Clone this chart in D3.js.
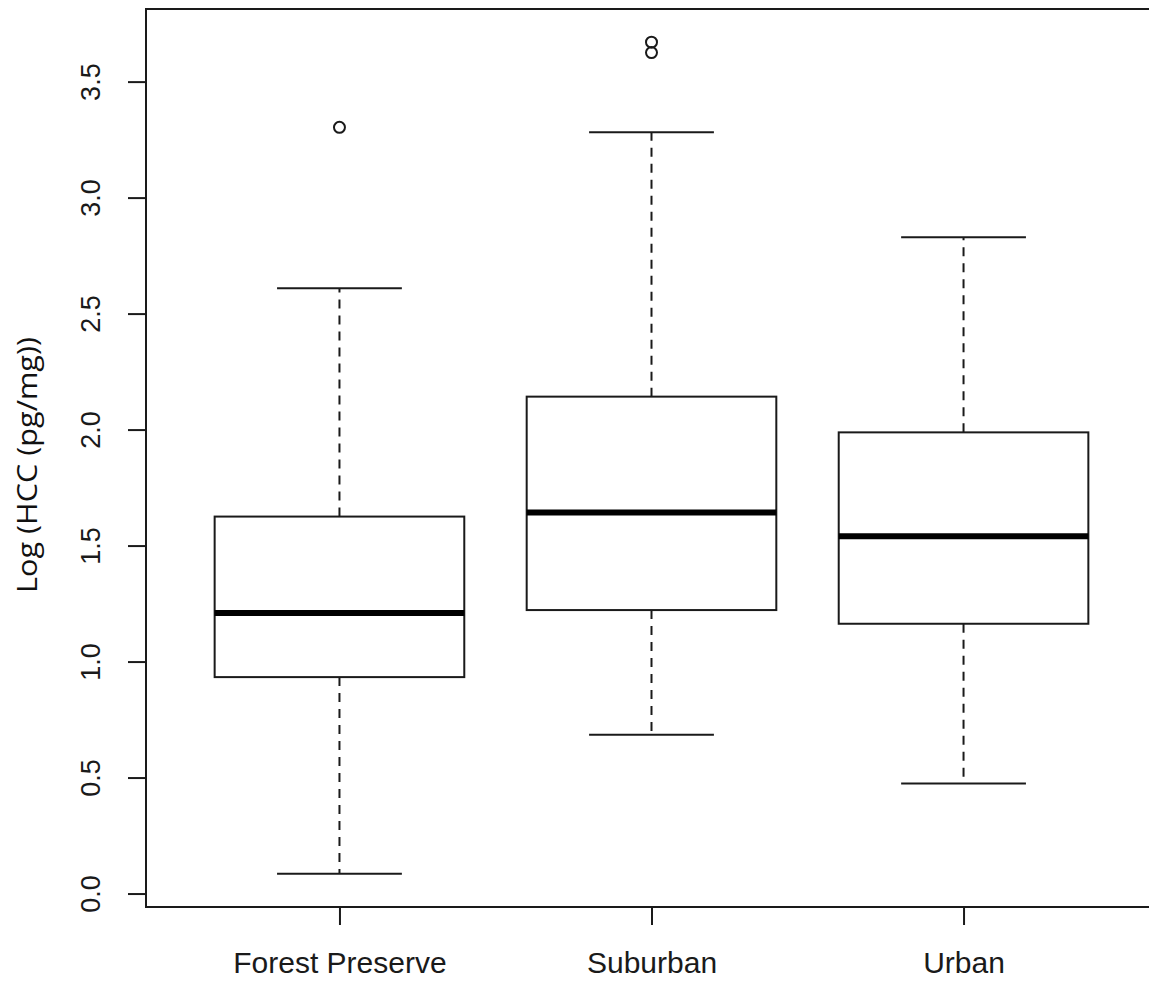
<!DOCTYPE html>
<html>
<head>
<meta charset="utf-8">
<script src="https://cdn.jsdelivr.net/npm/d3@7"></script>
<style>
  body { margin: 0; background: #fff; }
  svg { display: block; }
</style>
</head>
<body>
<svg id="chart" width="1149" height="983"></svg>
<script>
// groups and their five-number summaries
var groups = ["Forest Preserve", "Suburban", "Urban"];
var lowerWhisker = [0.085, 0.685, 0.474];
var q1 = [0.933, 1.222, 1.163];
var median = [1.209, 1.643, 1.540];
var q3 = [1.625, 2.142, 1.988];
var upperWhisker = [2.609, 3.282, 2.829];
var outliers = [[3.303], [3.625, 3.670], []];
var yTicks = [0.0, 0.5, 1.0, 1.5, 2.0, 2.5, 3.0, 3.5];

var svg = d3.select("#chart");

// R style limits: 4% padding around the data range
var x = d3.scaleLinear().domain([0.38, 3.62]).range([146, 1157]);
var y = d3.scaleLinear().domain([-0.058, 3.813]).range([907, 9]);

var boxW = 0.8, capW = 0.4;
var stroke = "#1a1a1a";

// plot frame (right side runs off the canvas)
svg.append("rect")
  .attr("x", x(0.38)).attr("y", y(3.813))
  .attr("width", x(3.62) - x(0.38)).attr("height", y(-0.058) - y(3.813))
  .attr("fill", "none").attr("stroke", stroke).attr("stroke-width", 2);

// y axis
var yAxis = d3.axisLeft(y).tickValues(yTicks).tickSize(18).tickFormat(d3.format(".1f"));
var gy = svg.append("g").attr("transform", "translate(" + x(0.38) + ",0)").call(yAxis);
gy.select(".domain").remove();
gy.selectAll(".tick line").attr("stroke", stroke).attr("stroke-width", 2);
gy.selectAll(".tick text").remove();
gy.selectAll(".tick").append("text")
  .attr("transform", "translate(-46,0) rotate(-90)")
  .attr("text-anchor", "middle")
  .attr("fill", "#1a1a1a")
  .style("font-family", "'Liberation Sans', Arial, sans-serif")
  .style("font-size", "27px")
  .text(d3.format(".1f"));

// x axis
var xAxis = d3.axisBottom(x).tickValues([1, 2, 3]).tickSize(18).tickFormat(function(d) { return groups[d - 1]; });
var gx = svg.append("g").attr("transform", "translate(0," + y(-0.058) + ")").call(xAxis);
gx.select(".domain").remove();
gx.selectAll(".tick line").attr("stroke", stroke).attr("stroke-width", 2);
gx.selectAll(".tick text")
  .attr("y", 0).attr("dy", 0)
  .attr("transform", "translate(0,66)")
  .attr("fill", "#1a1a1a")
  .style("font-family", "'Liberation Sans', Arial, sans-serif")
  .style("font-size", "30px");

// y title
svg.append("text")
  .attr("transform", "translate(37,465) rotate(-90)")
  .attr("text-anchor", "middle")
  .attr("fill", "#111")
  .style("font-family", "'Open Sans', sans-serif")
  .style("font-size", "28px")
  .attr("textLength", 256)
  .attr("lengthAdjust", "spacingAndGlyphs")
  .text("Log (HCC (pg/mg))");

// boxes
groups.forEach(function(g, i) {
  var c = i + 1;
  var b = svg.append("g");
  // whiskers
  b.append("line")
    .attr("x1", x(c)).attr("x2", x(c))
    .attr("y1", y(q3[i])).attr("y2", y(upperWhisker[i]))
    .attr("stroke", stroke).attr("stroke-width", 2).attr("stroke-dasharray", "9,7");
  b.append("line")
    .attr("x1", x(c)).attr("x2", x(c))
    .attr("y1", y(q1[i])).attr("y2", y(lowerWhisker[i]))
    .attr("stroke", stroke).attr("stroke-width", 2).attr("stroke-dasharray", "9,7");
  // caps
  [upperWhisker[i], lowerWhisker[i]].forEach(function(v) {
    b.append("line")
      .attr("x1", x(c - capW / 2)).attr("x2", x(c + capW / 2))
      .attr("y1", y(v)).attr("y2", y(v))
      .attr("stroke", stroke).attr("stroke-width", 2);
  });
  // box
  b.append("rect")
    .attr("x", x(c - boxW / 2)).attr("y", y(q3[i]))
    .attr("width", x(c + boxW / 2) - x(c - boxW / 2))
    .attr("height", y(q1[i]) - y(q3[i]))
    .attr("fill", "#fff").attr("stroke", stroke).attr("stroke-width", 2);
  // median
  b.append("line")
    .attr("x1", x(c - boxW / 2)).attr("x2", x(c + boxW / 2))
    .attr("y1", y(median[i])).attr("y2", y(median[i]))
    .attr("stroke", "#000").attr("stroke-width", 6);
  // outliers
  b.selectAll("circle").data(outliers[i]).enter().append("circle")
    .attr("cx", x(c)).attr("cy", function(d) { return y(d); })
    .attr("r", 5.5)
    .attr("fill", "none").attr("stroke", stroke).attr("stroke-width", 2);
});
</script>
</body>
</html>
